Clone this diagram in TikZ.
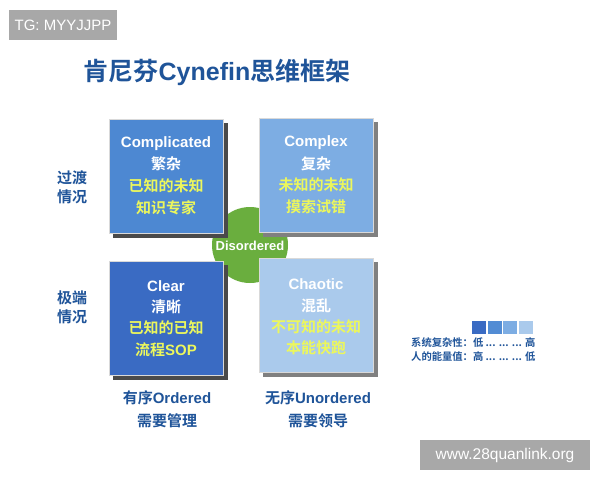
\documentclass[tikz,border=0pt]{standalone}
\usepackage{fontspec}
\setmainfont{Liberation Sans}
\newfontfamily\cjk{Noto Sans CJK SC}
\newfontfamily\cjkb{Noto Sans CJK SC Bold}
\newcommand{\lt}[1]{{\rmfamily\bfseries #1}}
\definecolor{titleblue}{HTML}{1F5499}
\definecolor{cA}{HTML}{4D88D2}
\definecolor{cB}{HTML}{7DADE3}
\definecolor{cC}{HTML}{3A6BC3}
\definecolor{cD}{HTML}{AACAEC}
\definecolor{yel}{HTML}{ECF75C}
\definecolor{grn}{HTML}{6AAE3E}
\definecolor{wm}{HTML}{A8A8A8}
\definecolor{shd}{HTML}{4A4A4A}
\begin{document}
\begin{tikzpicture}[x=1pt,y=-1pt,
  quad/.style={draw=white!85!black,line width=0.6pt,minimum width=114pt,minimum height=114pt,inner sep=0pt},
  en/.style={font=\fontsize{15}{15}\selectfont\bfseries,text=white},
  zw/.style={font=\cjkb\fontsize{15}{15}\selectfont,text=white},
  zy/.style={font=\cjkb\fontsize{15}{15}\selectfont,text=yel},
  side/.style={font=\cjkb\fontsize{15}{15}\selectfont,text=titleblue},
  leg/.style={font=\cjkb\fontsize{10.3}{10.3}\selectfont,text=titleblue,anchor=west,inner sep=0pt},
  sq/.style={minimum width=14pt,minimum height=13pt,inner sep=0pt}]
\fill[white] (0,0) rectangle (600,480);
\useasboundingbox (0,0) rectangle (600,480);
% watermark top-left
\node[fill=wm,text=white,minimum width=108pt,minimum height=30pt,inner sep=0pt,font=\fontsize{15}{15}\selectfont] (tg) at (63,25) {TG: MYYJJPP};
% title
\node[font=\cjkb\fontsize{25}{25}\selectfont,text=titleblue,inner sep=0pt] (title) at (217,72) {肯尼芬\lt{Cynefin}思维框架};
% green disc
\fill[grn] (250,245) circle (38);
% shadows
\fill[shd] (113,123) rectangle (228,238);
\fill[shd!70!white] (263,122) rectangle (378,237);
\fill[shd] (113,265) rectangle (228,380);
\fill[shd!70!white] (263,262) rectangle (378,377);
% quadrants
\node[quad,fill=cA] (cpl) at (166.5,176) {};
\node[quad,fill=cB] (cpx) at (316.5,175.5) {};
\node[quad,fill=cC] (clr) at (166.5,318) {};
\node[quad,fill=cD] (cha) at (316.5,315.5) {};
\node[font=\fontsize{13}{13}\selectfont\bfseries,text=white,inner sep=0pt] (dis) at (250,246) {Disordered};
% texts
\node[en] (t1) at (166,144) {Complicated};
\node[zw] (t2) at (166,164) {繁杂};
\node[zy] (t3) at (166,186) {已知的未知};
\node[zy] (t4) at (166,208) {知识专家};
\node[en] (u1) at (316,143) {Complex};
\node[zw] (u2) at (316,164) {复杂};
\node[zy] (u3) at (316,185) {未知的未知};
\node[zy] (u4) at (316,207) {摸索试错};
\node[en] (v1) at (166,286) {Clear};
\node[zw] (v2) at (166,307) {清晰};
\node[zy] (v3) at (166,328) {已知的已知};
\node[zy] (v4) at (166,350) {流程\lt{SOP}};
\node[en] (w1) at (316,284) {Chaotic};
\node[zw] (w2) at (316,306) {混乱};
\node[zy] (w3) at (316,327) {不可知的未知};
\node[zy] (w4) at (316,348) {本能快跑};
% side labels
\node[side,align=center] (s1) at (72,187) {过渡\\[4pt]情况};
\node[side,align=center] (s2) at (72,307) {极端\\[4pt]情况};
\node[side] (b1) at (167,398) {有序\lt{Ordered}};
\node[side] (b2) at (167,421) {需要管理};
\node[side] (b3) at (318,398) {无序\lt{Unordered}};
\node[side] (b4) at (318,421) {需要领导};
% legend
\node[sq,fill=cC] (l1) at (479,327.5) {};
\node[sq,fill=cA!90!cB] (l2) at (494.5,327.5) {};
\node[sq,fill=cB] (l3) at (510,327.5) {};
\node[sq,fill=cD] (l4) at (525.5,327.5) {};
\node[leg] (g1) at (411,343) {系统复杂性：低 ... ... ... 高};
\node[leg] (g2) at (411,357) {人的能量值：高 ... ... ... 低};
% watermark bottom-right
\node[fill=wm,text=white,minimum width=170pt,minimum height=30pt,inner sep=0pt,font=\fontsize{15.5}{15.5}\selectfont] (url) at (505,455) {www.28quanlink.org};
\end{tikzpicture}
\end{document}
